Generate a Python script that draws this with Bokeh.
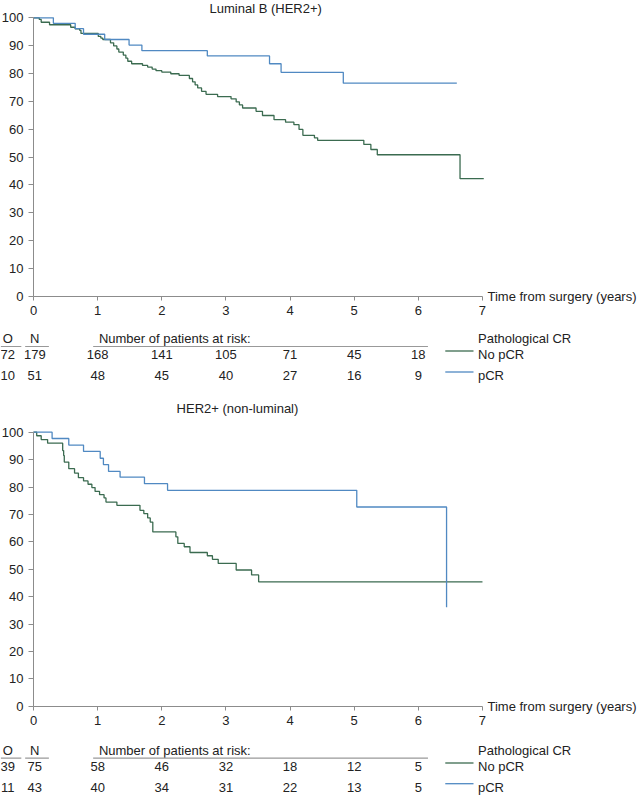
from bokeh.plotting import figure
from bokeh.layouts import column
from bokeh.models import Range1d, FixedTicker
from bokeh.core.properties import value
from bokeh.embed import file_html
from bokeh.resources import INLINE

FONT = "Liberation Sans"
FS = "13px"
TXT = "#222222"
AXC = "#8c8c8c"
GREEN = "#3b6b50"
BLUE = "#5089c2"

# ---------------- data ----------------
x_ticks = [0, 1, 2, 3, 4, 5, 6, 7]
y_ticks = [0, 10, 20, 30, 40, 50, 60, 70, 80, 90, 100]
risk_times = [1, 2, 3, 4, 5, 6]

# Panel 1: Luminal B (HER2+)
lb_no_t = [0, 0.09, 0.12, 0.25, 0.58, 0.65, 0.72, 0.74, 1.01, 1.05, 1.08, 1.20, 1.25, 1.30, 1.33,
           1.40, 1.44, 1.47, 1.53, 1.70, 1.78, 1.85, 1.91, 2.00, 2.14, 2.27, 2.43, 2.48, 2.52, 2.56,
           2.62, 2.69, 2.87, 3.08, 3.16, 3.21, 3.26, 3.47, 3.57, 3.75, 3.93, 4.06, 4.14, 4.20,
           4.38, 4.43, 5.15, 5.26, 5.36, 6.65, 7.02]
lb_no_s = [100, 99.4, 98.4, 97.5, 96.6, 96.0, 95.5, 94.4, 93.3, 92.7, 92.2, 91.0, 89.9, 88.8, 87.7,
           86.6, 85.5, 84.4, 83.5, 82.9, 82.3, 81.6, 81.0, 80.5, 79.9, 79.3, 78.2, 77.0, 75.9, 74.8,
           73.6, 72.5, 71.7, 70.9, 69.8, 68.7, 67.6, 66.4, 64.9, 63.4, 62.5, 61.6, 59.9, 57.8,
           56.9, 56.0, 54.5, 52.7, 50.8, 42.2, 42.2]
lb_p_t = [0, 0.31, 0.65, 0.78, 1.11, 1.49, 1.69, 2.71, 3.68, 3.86, 4.83, 6.60]
lb_p_s = [100, 98.0, 96.1, 94.1, 92.2, 90.2, 88.2, 86.3, 83.5, 80.4, 76.5, 76.5]
lb_O = [72, 10]
lb_N = [179, 51]
lb_risk_no = [168, 141, 105, 71, 45, 18]
lb_risk_p = [48, 45, 40, 27, 16, 9]

# Panel 2: HER2+ (non-luminal)
hn_no_t = [0, 0.05, 0.12, 0.22, 0.455, 0.47, 0.48, 0.55, 0.64, 0.70, 0.78, 0.85, 0.91, 0.96, 1.03,
           1.10, 1.13, 1.30, 1.66, 1.72, 1.78, 1.82, 1.86, 2.22, 2.25, 2.35, 2.44, 2.71, 2.79, 2.88,
           3.16, 3.40, 3.51, 7.0]
hn_no_s = [100, 98.7, 97.3, 96.0, 93.3, 91.5, 89.1, 86.7, 85.1, 83.4, 82.2, 81.0, 79.8, 78.4, 77.2,
           76.0, 74.5, 73.3, 71.5, 70.3, 68.7, 67.2, 63.6, 61.8, 59.4, 58.2, 56.1, 54.9, 53.6, 52.1,
           49.7, 47.9, 45.4, 45.4]
hn_p_t = [0, 0.29, 0.55, 0.78, 1.04, 1.09, 1.17, 1.35, 1.73, 2.09, 5.04, 6.44]
hn_p_s = [100, 97.7, 95.3, 93.0, 90.5, 88.2, 85.7, 83.6, 81.2, 78.8, 72.7, 36.1]
hn_O = [39, 11]
hn_N = [75, 43]
hn_risk_no = [58, 46, 32, 18, 12, 5]
hn_risk_p = [40, 34, 31, 22, 13, 5]

# ---------------- layout ----------------
W = 640
X0_PX = 33.0      # pixel of t = 0
S = 64.14         # pixels per year
X_START = -X0_PX / S
X_END = (W - X0_PX) / S


def panel(height, title, title_x, title_px, top100_px, zero_px, head_px, under_px, r1_px, r2_px,
          no_t, no_s, p_t, p_s, O, N, risk_no, risk_p):
    ypp = (zero_px - top100_px) / 100.0
    y_end = zero_px / ypp
    y_start = -(height - zero_px) / ypp

    def py(px):  # pixel row inside this panel -> data y
        return (zero_px - px) / ypp

    p = figure(width=W, height=height, x_range=Range1d(X_START, X_END), y_range=Range1d(y_start, y_end),
               output_backend="svg", toolbar_location=None, min_border=0)
    p.outline_line_color = None
    p.grid.visible = False
    p.background_fill_color = "white"
    p.border_fill_color = "white"

    p.xaxis.fixed_location = 0
    p.yaxis.fixed_location = 0
    p.xaxis.ticker = FixedTicker(ticks=x_ticks)
    p.yaxis.ticker = FixedTicker(ticks=y_ticks)
    p.xaxis.bounds = (0, 7)
    p.yaxis.bounds = (0, 100)
    for ax in (p.xaxis, p.yaxis):
        ax.axis_line_color = AXC
        ax.major_tick_line_color = AXC
        ax.minor_tick_line_color = None
        ax.major_tick_in = 0
        ax.major_tick_out = 5
        ax.major_label_text_font = FONT
        ax.major_label_text_font_size = FS
        ax.major_label_text_color = TXT
        ax.major_label_text_font_style = "normal"
    p.xaxis.major_tick_out = 4
    p.xaxis.major_label_standoff = 6
    p.yaxis.major_label_standoff = 5

    p.step(no_t, no_s, mode="after", line_color=GREEN, line_width=1.3)
    p.step(p_t, p_s, mode="after", line_color=BLUE, line_width=1.3)

    kw = dict(text_font=value(FONT), text_font_size=FS, text_color=TXT, text_baseline="middle")
    p.text(x=[title_x], y=[py(title_px)], text=[title], text_align="center", **kw)
    p.text(x=[7], y=[0], x_offset=5, text=["Time from surgery (years)"], text_align="left", **kw)

    # number-at-risk table
    hy, uy, r1, r2 = py(head_px), py(under_px), py(r1_px), py(r2_px)
    p.text(x=[-0.40, 0.02], y=[hy, hy], text=["O", "N"], text_align="center", **kw)
    p.text(x=[1.02], y=[hy], text=["Number of patients at risk:"], text_align="left", **kw)
    p.text(x=[6.93], y=[hy], text=["Pathological CR"], text_align="left", **kw)
    p.segment(x0=[-0.51, -0.13, 0.93], y0=[uy] * 3, x1=[-0.19, 0.24, 6.15], y1=[uy] * 3,
              line_color="#999999", line_width=1.2)
    p.text(x=[-0.40, -0.40], y=[r1, r2], text=[str(v) for v in O], text_align="center", **kw)
    p.text(x=[0.02, 0.02], y=[r1, r2], text=[str(v) for v in N], text_align="center", **kw)
    p.text(x=risk_times, y=[r1] * len(risk_times), text=[str(v) for v in risk_no], text_align="center", **kw)
    p.text(x=risk_times, y=[r2] * len(risk_times), text=[str(v) for v in risk_p], text_align="center", **kw)
    p.segment(x0=[6.42], y0=[py(r1_px - 3.5)], x1=[6.86], y1=[py(r1_px - 3.5)], line_color=GREEN, line_width=1.3)
    p.segment(x0=[6.42], y0=[py(r2_px - 3.5)], x1=[6.86], y1=[py(r2_px - 3.5)], line_color=BLUE, line_width=1.3)
    p.text(x=[6.93, 6.93], y=[r1, r2], text=["No pCR", "pCR"], text_align="left", **kw)
    return p


p1 = panel(398, "Luminal B (HER2+)", 3.62, 8, 17.3, 295.7, 338, 346, 354, 375,
           lb_no_t, lb_no_s, lb_p_t, lb_p_s, lb_O, lb_N, lb_risk_no, lb_risk_p)
p2 = panel(397, "HER2+ (non-luminal)", 3.18, 10, 33.7, 307.7, 352, 359.7, 368, 388.7,
           hn_no_t, hn_no_s, hn_p_t, hn_p_s, hn_O, hn_N, hn_risk_no, hn_risk_p)

layout = column(p1, p2, spacing=0)
open("out.html", "w").write(file_html(layout, INLINE))
